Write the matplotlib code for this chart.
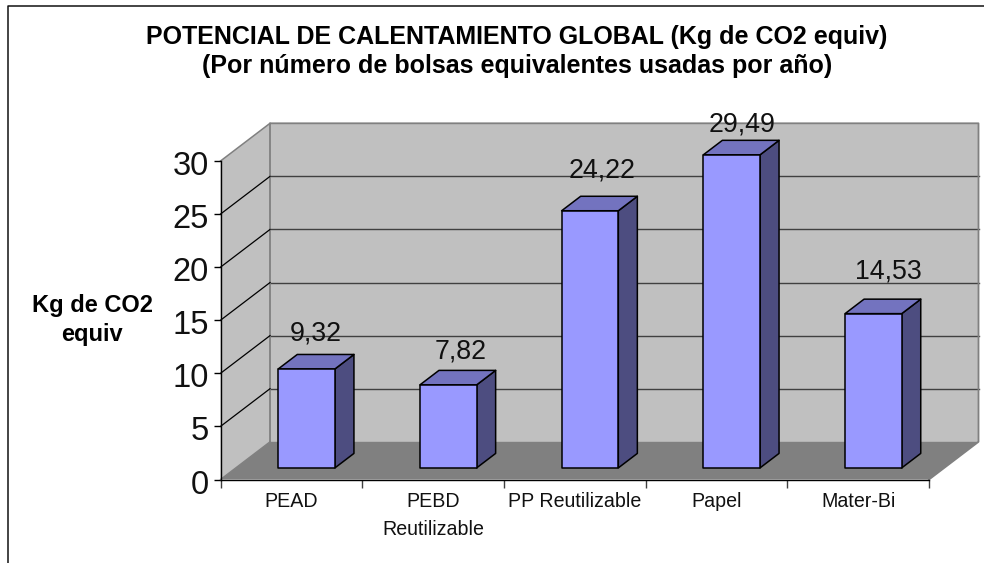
import matplotlib
matplotlib.use("Agg")
import matplotlib.pyplot as plt
from matplotlib.patches import Polygon
from matplotlib.transforms import offset_copy, ScaledTranslation

plt.rcParams['font.family'] = ['Liberation Sans', 'DejaVu Sans']

categories = ['PEAD', 'PEBD\nReutilizable', 'PP Reutilizable', 'Papel', 'Mater-Bi']
values = [9.32, 7.82, 24.22, 29.49, 14.53]
value_labels = ['9,32', '7,82', '24,22', '29,49', '14,53']
y_ticks = [0, 5, 10, 15, 20, 25, 30]

W, H = 984, 563
fig = plt.figure(figsize=(W / 100, H / 100), dpi=100)
fig.patch.set_facecolor('white')

# front plane of the 3D box, in pixels
L, R, Y0, Y30 = 220.5, 929.0, 479.5, 161.0
ax = fig.add_axes([L / W, 1 - Y0 / H, (R - L) / W, (Y0 - Y30) / H])
ax.set_xlim(0, len(categories))
ax.set_ylim(0, 30)
ax.patch.set_visible(False)

DX = 49.5 / ((R - L) / len(categories))
DY = 37.7 / ((Y0 - Y30) / 30)


def P(x, y, d):
    return (x + d * DX, y + d * DY)


def poly(pts, fc, ec='none', lw=0, z=1):
    ax.add_patch(Polygon(pts, closed=True, facecolor=fc, edgecolor=ec, linewidth=lw,
                         zorder=z, clip_on=False, joinstyle='round'))


n = len(categories)
top = y_ticks[-1]
poly([P(0, 0, 1), P(n, 0, 1), P(n, top, 1), P(0, top, 1)], '#c0c0c0', z=1)
poly([P(0, 0, 0), P(0, 0, 1), P(0, top, 1), P(0, top, 0)], '#c0c0c0', z=1)
poly([P(0, 0, 0), P(n, 0, 0), P(n, 0, 1), P(0, 0, 1)], '#808080', z=1.5)

for t in y_ticks[1:-1]:
    ax.plot(*zip(P(0, t, 0), P(0, t, 1)), color='black', lw=0.9, zorder=2, clip_on=False)
    ax.plot(*zip(P(0, t, 1), P(n, t, 1)), color='#404040', lw=1.0, zorder=1.2, clip_on=False)
# box edges
edge = '#808080'
ax.plot(*zip(P(0, 0, 1), P(0, top, 1), P(n, top, 1), P(n, 0, 1), P(n, 0, 0)),
        color=edge, lw=1.3, zorder=1.4, clip_on=False)
ax.plot(*zip(P(0, top, 0), P(0, top, 1)), color=edge, lw=1.1, zorder=1.4, clip_on=False)
ax.plot(*zip(P(0, 0, 0), P(0, 0, 1)), color=edge, lw=1.0, zorder=1.6, clip_on=False)

# bars
bw = 0.4
d0, d1 = 0.308, 0.692
# hand placement of the data labels (points), as the original chart placed them
nudge_x = [0, 2, 1.5, 0.7, 3.6]
nudge_y = [8.5, 7, 11.5, 4.3, 13]
for i, v in enumerate(values):
    a, b = i + 0.5 - bw / 2, i + 0.5 + bw / 2
    kw = dict(ec='black', lw=1.1, z=3)
    poly([P(b, 0, d0), P(b, 0, d1), P(b, v, d1), P(b, v, d0)], '#4d4d80', **kw)
    poly([P(a, v, d0), P(b, v, d0), P(b, v, d1), P(a, v, d1)], '#7373bf', **kw)
    poly([P(a, 0, d0), P(b, 0, d0), P(b, v, d0), P(a, v, d0)], '#9999ff', **kw)
    lx, ly = P(i + 0.5, v, 0.5)
    tr = offset_copy(ax.transData, fig=fig, x=nudge_x[i], y=nudge_y[i], units='points')
    ax.text(lx, ly + 0.35, value_labels[i], ha='center', va='bottom', fontsize=19.3,
            color='#111111', zorder=4, clip_on=False, transform=tr)

# axes furniture
for s in ('top', 'right'):
    ax.spines[s].set_visible(False)
for s in ('left', 'bottom'):
    ax.spines[s].set_color('black')
    ax.spines[s].set_linewidth(1.0)
    ax.spines[s].set_zorder(2.5)
ax.set_yticks(y_ticks)
ax.set_yticklabels([str(t) for t in y_ticks])
ax.tick_params(axis='y', length=5, width=1, pad=3.5, labelsize=23.5, labelcolor='#111111')
shift = ScaledTranslation(0, -2 / 100, fig.dpi_scale_trans)
for lab in ax.get_yticklabels():
    lab.set_transform(lab.get_transform() + shift)
ax.set_xticks(range(n + 1))
ax.set_xticklabels([])
ax.tick_params(axis='x', length=6, width=1, color='#404040')
ax.set_xticks([i + 0.5 for i in range(n)], minor=True)
ax.set_xticklabels(categories, minor=True, fontsize=14.1, linespacing=1.62, color='#111111')
ax.tick_params(axis='x', which='minor', length=0, pad=9)

fig.text(517 / W, 1 - 37 / H, 'POTENCIAL DE CALENTAMIENTO GLOBAL (Kg de CO2 equiv)',
         ha='center', va='center', fontsize=18, fontweight='bold')
fig.text(517 / W, 1 - 66 / H, '(Por número de bolsas equivalentes usadas por año)',
         ha='center', va='center', fontsize=18, fontweight='bold')
fig.text(92 / W, 1 - 320 / H, 'Kg de CO2\nequiv', ha='center', va='center',
         fontsize=17, fontweight='bold', linespacing=1.37)

# chart frame running off the top right and bottom
fig.add_artist(plt.Line2D([8 / W, 8 / W, 1], [0, 1 - 5.5 / H, 1 - 5.5 / H],
                          color='#111111', lw=1.1, transform=fig.transFigure))

fig.savefig('out.png', dpi=100)
